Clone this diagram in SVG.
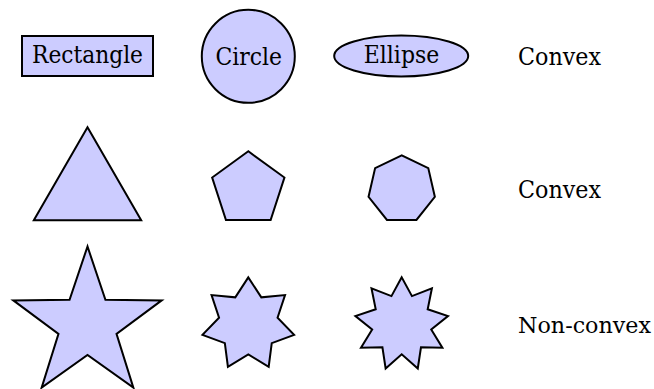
<svg xmlns="http://www.w3.org/2000/svg" width="654" height="389" viewBox="0 0 654 389">
<style>
.s{fill:#ccccff;stroke:#000;stroke-width:2;stroke-linejoin:miter}
.m{text-anchor:middle}
</style>
<rect width="654" height="389" fill="#fff"/>
<g font-family="'DejaVu Serif', serif" font-size="24" fill="#000">
<g id="rectangle"><rect class="s" x="22" y="36" width="131" height="40"/><text class="m" x="87.5" y="62.5" textLength="111" lengthAdjust="spacingAndGlyphs">Rectangle</text></g>
<g id="circle"><circle class="s" cx="248.3" cy="56.3" r="46.5"/><text class="m" x="248.8" y="65" textLength="66.5" lengthAdjust="spacingAndGlyphs">Circle</text></g>
<g id="ellipse"><ellipse class="s" cx="401.2" cy="56" rx="67" ry="20.5"/><text class="m" x="401.5" y="62.5" textLength="75.5" lengthAdjust="spacingAndGlyphs">Ellipse</text></g>
<g id="label1"><text x="518" y="65" textLength="83" lengthAdjust="spacingAndGlyphs">Convex</text></g>
<g id="triangle"><polygon class="s" points="87.5,127.3 33.81,220.3 141.19,220.3"/></g>
<g id="pentagon"><polygon class="s" points="248.3,151.3 212.16,177.56 225.96,220.04 270.64,220.04 284.44,177.56"/></g>
<g id="heptagon"><polygon class="s" points="401.7,155.3 375.12,168.1 368.55,196.87 386.95,219.93 416.45,219.93 434.85,196.87 428.28,168.1"/></g>
<g id="label2"><text x="518" y="198.3" textLength="83" lengthAdjust="spacingAndGlyphs">Convex</text></g>
<g id="star5"><polygon class="s" points="87.5,246.5 69.57,299.83 13.32,300.4 58.49,333.92 41.65,387.6 87.5,355 133.35,387.6 116.51,333.92 161.68,300.4 105.43,299.83"/></g>
<g id="star7"><polygon class="s" points="248.3,277.4 235.28,297.37 211.56,295.1 219.05,317.72 202.48,334.86 224.85,343.11 227.91,366.75 248.3,354.4 268.69,366.75 271.75,343.11 294.12,334.86 277.55,317.72 285.04,295.1 261.32,297.37"/></g>
<g id="star9"><polygon class="s" points="401.7,277.3 391.44,296.11 371.49,288.3 375.72,309.3 355.41,316.14 372.16,329.51 361,347.8 382.42,347.28 385.63,368.47 401.7,354.3 417.77,368.47 420.98,347.28 442.4,347.8 431.24,329.51 447.99,316.14 427.68,309.3 431.91,288.3 411.96,296.11"/></g>
<g id="label3"><text x="518" y="333.4" font-size="21.5" textLength="133" lengthAdjust="spacingAndGlyphs">Non-convex</text></g>
</g>
<g id="connectors"/>
</svg>
